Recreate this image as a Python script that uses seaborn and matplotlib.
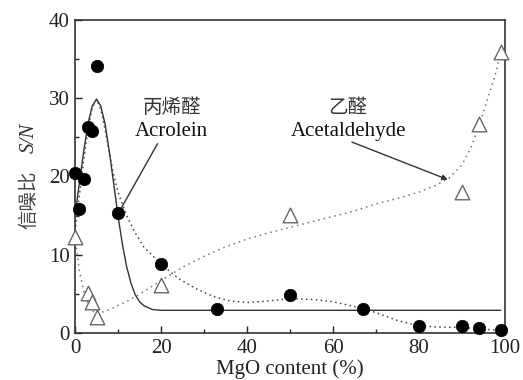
import numpy as np
import pandas as pd
import matplotlib
matplotlib.use("Agg")
import matplotlib.pyplot as plt
import seaborn as sns

# Measured S/N for acrolein (filled circles)
acro_x = [0, 1, 2, 3, 4, 5, 10, 20, 33, 50, 67, 80, 90, 94, 99]
acro_y = [20.5, 15.8, 19.7, 26.3, 25.8, 34.1, 15.3, 8.8, 3.1, 4.9, 3.1, 0.9, 0.9, 0.6, 0.4]

# Measured S/N for acetaldehyde (open triangles)
acet_x = [0, 3, 4, 5, 20, 50, 90, 94, 99]
acet_y = [12.3, 5.1, 4.0, 2.0, 6.1, 15.1, 18.0, 26.7, 35.9]

# Peak fit through acrolein (solid curve)
fit_x = [0, 1, 2, 3, 4, 5, 6, 7, 8, 9, 10, 11, 12, 13, 14, 15, 16, 18, 20, 99]
fit_y = [15.0, 19.1, 23.1, 26.7, 29.0, 29.9, 29.0, 26.7, 23.1, 19.1, 15.0, 11.4, 8.5, 6.4, 4.9, 4.0, 3.5, 3.0, 2.9, 2.9]

# Trend through acrolein (dotted dark curve)
acro_trend_x = [0, 1, 2, 3, 4, 5, 6, 7, 8, 9, 10, 12, 14, 16, 20, 24, 28, 32, 36, 40, 45, 50, 55, 60, 64, 67, 70, 75, 80, 85, 90, 95, 99]
acro_trend_y = [13.0, 17.5, 22.0, 26.0, 28.8, 29.8, 28.6, 26.0, 23.0, 20.2, 18.0, 15.0, 12.8, 11.0, 8.8, 7.0, 5.7, 4.7, 4.1, 3.9, 4.1, 4.4, 4.3, 4.0, 3.5, 3.1, 2.6, 1.6, 0.9, 0.75, 0.7, 0.5, 0.3]

# Trend through acetaldehyde (dotted grey curve)
acet_trend_x = [0, 1, 2, 3, 4, 5, 6, 8, 10, 13, 16, 20, 25, 30, 35, 40, 45, 50, 55, 60, 65, 70, 75, 80, 84, 87, 90, 92, 94, 96, 98, 99]
acet_trend_y = [12.3, 8.0, 5.4, 3.8, 2.9, 2.4, 2.6, 3.0, 3.5, 4.3, 5.3, 6.7, 8.4, 9.8, 11.0, 12.0, 12.8, 13.5, 14.2, 14.9, 15.6, 16.5, 17.2, 18.0, 18.9, 19.8, 21.5, 23.6, 26.5, 30.0, 33.5, 36.0]

xticks = [0, 20, 40, 60, 80, 100]
yticks = [0, 10, 20, 30, 40]

sns.set_style("ticks")
plt.rcParams["font.family"] = ["Liberation Serif", "Noto Sans CJK SC"]

W, H = 523, 380
fig = plt.figure(figsize=(W / 100, H / 100), dpi=100)
ax = fig.add_axes([75 / W, 1 - 333 / H, 430 / W, 313 / H])

sns.lineplot(x=fit_x, y=fit_y, ax=ax, color="#333333", lw=1.0, sort=False, estimator=None)
sns.lineplot(x=acro_trend_x, y=acro_trend_y, ax=ax, color="#444444", lw=1.1,
             linestyle=(0, (1, 2.2)), sort=False, estimator=None)
sns.lineplot(x=acet_trend_x, y=acet_trend_y, ax=ax, color="#777777", lw=1.1,
             linestyle=(0, (1, 2.6)), sort=False, estimator=None)

sns.scatterplot(x=acro_x, y=acro_y, ax=ax, color="black", s=80, marker="o",
                edgecolor="black", linewidth=0.5, clip_on=False, zorder=5)
sns.scatterplot(x=acet_x, y=acet_y, ax=ax, marker="^", s=110, facecolor="white",
                edgecolor="#666666", linewidth=1.0, clip_on=False, zorder=5)

ax.set_xlim(0, 100)
ax.set_ylim(0, 40)
ax.set_xticks(xticks)
ax.set_yticks(yticks)
ax.set_xticks(range(10, 100, 20), minor=True)
ax.set_yticks(range(5, 40, 10), minor=True)
ax.tick_params(direction="in", length=5, width=1, labelsize=15, colors="#222222",
               pad=4, top=False, right=False)
ax.tick_params(which="minor", direction="in", length=3, width=1, top=False, right=False)
for s in ax.spines.values():
    s.set_visible(True)
    s.set_linewidth(1.2)
    s.set_color("#333333")

ax.set_xlabel("MgO content (%)", fontsize=15, labelpad=1, color="#222222")

# Vertical axis title: Chinese part followed by italic S/N
fig.text(29 / W, 1 - 229 / H, "信噪比", rotation=90, rotation_mode="anchor",
         ha="left", va="center", fontsize=14, color="#444444",
         family=["Noto Sans CJK SC", "DejaVu Sans"])
fig.text(29 / W, 1 - 153 / H, "S/N", rotation=90, rotation_mode="anchor",
         ha="left", va="center", fontsize=15, color="#333333", style="italic",
         family="Liberation Serif")

# Annotations
ax.text(22.5, 28.8, "丙烯醛", ha="center", va="center", fontsize=14, color="#333333",
        family=["Noto Sans CJK SC", "DejaVu Sans"])
ax.text(22.5, 25.8, "Acrolein", ha="center", va="center", fontsize=15, color="#111111")
ax.annotate("", xy=(10.5, 15.7), xytext=(19.5, 24.5),
            arrowprops=dict(arrowstyle="-", color="#333333", lw=1.0))

ax.text(63.5, 28.8, "乙醛", ha="center", va="center", fontsize=14, color="#333333",
        family=["Noto Sans CJK SC", "DejaVu Sans"])
ax.text(63.5, 25.8, "Acetaldehyde", ha="center", va="center", fontsize=15, color="#111111")
ax.annotate("", xy=(86.7, 19.6), xytext=(64.4, 24.4),
            arrowprops=dict(arrowstyle="-|>", color="#333333", lw=1.0,
                            mutation_scale=8, shrinkA=0, shrinkB=0))

fig.savefig("out.png", dpi=100)
